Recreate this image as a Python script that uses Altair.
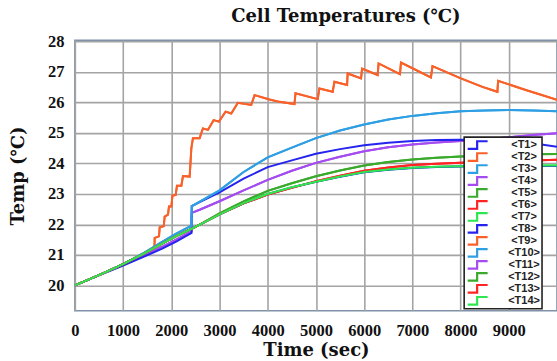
import altair as alt
import pandas as pd

# ---------------- data ----------------
series_names = ["<T1>", "<T2>", "<T3>", "<T4>", "<T5>", "<T6>", "<T7>",
                "<T8>", "<T9>", "<T10>", "<T11>", "<T12>", "<T13>", "<T14>"]
series_colors = ["#2424ee", "#f8612a", "#2f9fe4", "#a44cf0", "#3aaa2c", "#ff2424", "#2ee650",
                 "#2424ee", "#f8612a", "#2f9fe4", "#a44cf0", "#3aaa2c", "#ff2424", "#2ee650"]

time_grid = [0, 500, 1000, 1400, 1800, 2100, 2420, 2425, 2600, 3000, 3500, 4000, 4500,
             5000, 5500, 6000, 6500, 7000, 7500, 8000, 8500, 9000, 9500, 10000]

t1 = [20.00, 20.33, 20.65, 20.92, 21.20, 21.44, 21.72, 22.60, 22.74, 23.05, 23.50, 23.88, 24.10,
      24.32, 24.47, 24.60, 24.68, 24.74, 24.77, 24.78, 24.77, 24.73, 24.66, 24.55]
t3 = [20.00, 20.34, 20.70, 21.04, 21.42, 21.70, 21.96, 22.60, 22.76, 23.12, 23.72, 24.20, 24.52,
      24.83, 25.08, 25.28, 25.44, 25.56, 25.65, 25.71, 25.74, 25.75, 25.74, 25.71]
t4 = [20.00, 20.34, 20.68, 20.96, 21.26, 21.50, 21.77, 22.38, 22.49, 22.76, 23.12, 23.46, 23.76,
      24.02, 24.22, 24.40, 24.53, 24.62, 24.69, 24.74, 24.79, 24.86, 24.93, 24.99]
t5 = [20.00, 20.34, 20.70, 21.02, 21.36, 21.62, 21.86, 21.86, 22.00, 22.36, 22.76, 23.10, 23.35,
      23.58, 23.77, 23.93, 24.05, 24.13, 24.19, 24.23, 24.26, 24.28, 24.30, 24.31]
t6 = [20.00, 20.34, 20.70, 21.02, 21.36, 21.62, 21.86, 21.86, 22.00, 22.33, 22.69, 22.98, 23.20,
      23.42, 23.60, 23.76, 23.87, 23.95, 23.99, 24.02, 24.05, 24.08, 24.10, 24.12]
t7 = [20.00, 20.34, 20.70, 21.02, 21.36, 21.62, 21.86, 21.86, 22.00, 22.33, 22.70, 23.00, 23.22,
      23.40, 23.57, 23.72, 23.80, 23.86, 23.89, 23.91, 23.92, 23.92, 23.93, 23.93]
t8 = [20.00, 20.34, 20.70, 21.02, 21.36, 21.62, 21.86, 21.86, 22.00, 22.33, 22.69, 22.99, 23.21,
      23.40, 23.56, 23.71, 23.79, 23.85, 23.88, 23.90, 23.91, 23.91, 23.92, 23.92]
t10 = [20.00, 20.34, 20.70, 21.04, 21.42, 21.70, 21.96, 22.60, 22.76, 23.12, 23.72, 24.20, 24.52,
       24.83, 25.08, 25.28, 25.44, 25.56, 25.65, 25.71, 25.74, 25.75, 25.74, 25.71]
t11 = [20.00, 20.34, 20.68, 20.96, 21.26, 21.50, 21.77, 22.38, 22.49, 22.76, 23.12, 23.46, 23.76,
       24.02, 24.22, 24.40, 24.53, 24.62, 24.69, 24.74, 24.79, 24.86, 24.93, 24.99]
t12 = [20.00, 20.34, 20.70, 21.02, 21.36, 21.62, 21.86, 21.86, 22.00, 22.36, 22.76, 23.10, 23.35,
       23.58, 23.77, 23.93, 24.05, 24.13, 24.19, 24.23, 24.26, 24.28, 24.30, 24.31]
t13 = [20.00, 20.34, 20.70, 21.02, 21.36, 21.62, 21.86, 21.86, 22.00, 22.33, 22.69, 22.98, 23.20,
       23.42, 23.60, 23.76, 23.87, 23.95, 23.99, 24.02, 24.05, 24.08, 24.10, 24.12]
t14 = [20.00, 20.34, 20.70, 21.02, 21.36, 21.62, 21.86, 21.86, 22.00, 22.33, 22.70, 23.00, 23.22,
       23.40, 23.57, 23.72, 23.80, 23.86, 23.89, 23.91, 23.92, 23.92, 23.93, 23.93]

# heater cell: stepped / saw-tooth trace
t2_time = [0, 500, 1000, 1400, 1650, 1656, 1745, 1760, 1843, 1863, 1932, 1952, 2002, 2023, 2091,
           2118, 2209, 2242, 2381, 2416, 2449, 2588, 2656, 2760, 2878, 2988, 3126, 3244, 3381,
           3658, 3727, 4037, 4244, 4555, 4576, 5037, 5072, 5348, 5383, 5646, 5658, 5936, 5957,
           6280, 6300, 6743, 6764, 7385, 7418, 8006, 8453, 8764, 8778, 9352, 10000]
t2_temp = [20.00, 20.34, 20.70, 21.02, 21.23, 21.56, 21.61, 21.91, 21.94, 22.26, 22.32, 22.59,
           22.59, 22.94, 22.97, 23.27, 23.27, 23.59, 23.57, 24.50, 24.83, 24.83, 25.15, 25.10,
           25.42, 25.37, 25.70, 25.64, 25.99, 25.92, 26.24, 26.10, 26.02, 25.95, 26.30, 26.11,
           26.46, 26.35, 26.68, 26.57, 26.95, 26.79, 27.11, 26.90, 27.28, 26.93, 27.31, 26.82,
           27.19, 26.79, 26.51, 26.35, 26.71, 26.41, 26.09]
t9_time = list(t2_time)
t9_temp = list(t2_temp)

x_ticks = [0, 1000, 2000, 3000, 4000, 5000, 6000, 7000, 8000, 9000]
y_ticks = [20, 21, 22, 23, 24, 25, 26, 27, 28]

# ---------------- table ----------------
# draw order: purple before blue so the lower early trace reads blue
draw_order = ["<T4>", "<T11>", "<T1>", "<T2>", "<T3>", "<T5>", "<T6>", "<T7>",
              "<T8>", "<T9>", "<T10>", "<T12>", "<T13>", "<T14>"]
rows = []
grid_series = {"<T1>": t1, "<T3>": t3, "<T4>": t4, "<T5>": t5, "<T6>": t6, "<T7>": t7,
               "<T8>": t8, "<T10>": t10, "<T11>": t11, "<T12>": t12, "<T13>": t13, "<T14>": t14}
for name in draw_order:
    if name == "<T2>":
        pts = zip(t2_time, t2_temp)
    elif name == "<T9>":
        pts = zip(t9_time, t9_temp)
    else:
        pts = zip(time_grid, grid_series[name])
    for t, v in pts:
        rows.append({"series": name, "time": t, "temp": v})
df = pd.DataFrame(rows)

serif_bold = "DejaVu Serif"
tick_font = "Liberation Serif"

step_symbol = "M-1,0.38 L-0.05,0.38 L-0.05,-0.38 L1,-0.38"

chart = alt.Chart(df).mark_line(strokeWidth=2, clip=True).encode(
    x=alt.X("time:Q",
            scale=alt.Scale(domain=[0, 10000], nice=False, zero=False),
            axis=alt.Axis(values=x_ticks, format="d", title="Time (sec)", grid=True, ticks=False,
                          domain=False, labelFont=tick_font, labelFontSize=16.5,
                          labelFontWeight="bold", labelColor="#111", labelPadding=12,
                          labelFlush=False, labelOverlap=False,
                          titleFont=serif_bold, titleFontSize=18, titleFontWeight="bold",
                          titleColor="#111", titlePadding=2,
                          gridColor="#a4a4a4", gridWidth=1.6)),
    y=alt.Y("temp:Q",
            scale=alt.Scale(domain=[19.17, 28.04], nice=False, zero=False),
            axis=alt.Axis(values=y_ticks, format="d", title="Temp (℃)", grid=True, ticks=False,
                          domain=False, labelFont=tick_font, labelFontSize=16.5,
                          labelFontWeight="bold", labelColor="#111", labelPadding=11,
                          labelOverlap=False,
                          titleFont=serif_bold, titleFontSize=18, titleFontWeight="bold",
                          titleColor="#111", titlePadding=20,
                          gridColor="#a4a4a4", gridWidth=1.6)),
    color=alt.Color("series:N",
                    scale=alt.Scale(domain=series_names, range=series_colors),
                    sort=series_names,
                    legend=alt.Legend(title=None, orient="none", legendX=390, legendY=97,
                                      symbolType=step_symbol, symbolSize=400,
                                      symbolStrokeWidth=2.2, clipHeight=12,
                                      rowPadding=0, padding=2,
                                      labelFont="Liberation Sans", labelFontWeight="bold",
                                      labelFontSize=11, labelColor="#222",
                                      labelAlign="center", labelOffset=35,
                                      fillColor="white", strokeColor="#222",
                                      values=series_names)),
    detail="series:N",
    order=alt.Order("time:Q"),
).properties(
    width=483,
    height=271,
    title=alt.TitleParams("Cell Temperatures (℃)", font=serif_bold, fontSize=18,
                          fontWeight="bold", color="#111", anchor="middle", dx=30,
                          offset=8, frame="group"),
    autosize=alt.AutoSizeParams(type="none"),
    padding={"left": 75, "top": 40, "right": 0, "bottom": 50},
).configure_view(
    stroke="#7f92aa", strokeWidth=1.6, fill="white"
).configure_legend(
    strokeWidth=1.6
)

chart.save("out.html", embed_options={"renderer": "svg", "actions": False})
